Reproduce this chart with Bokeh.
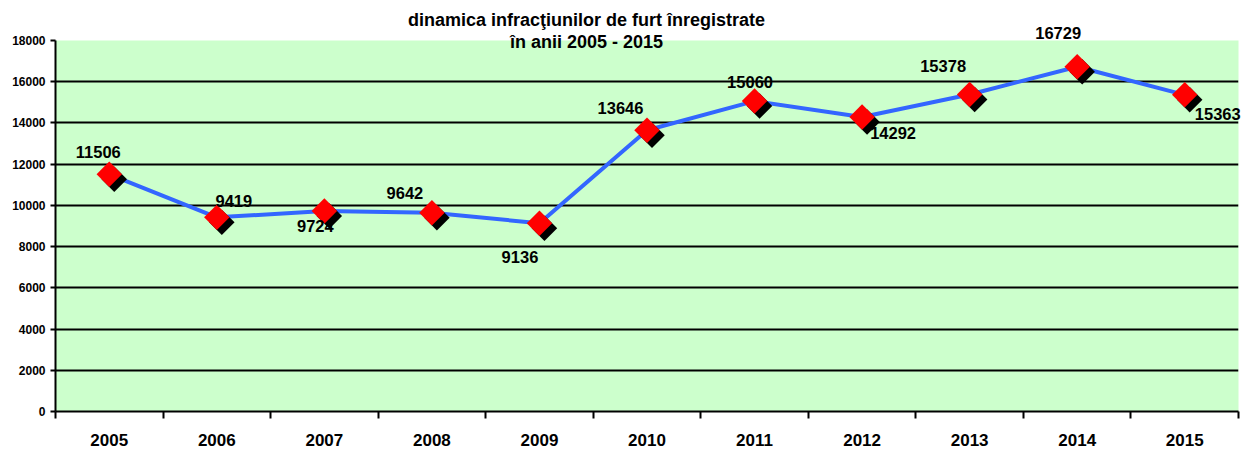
import math
from bokeh.plotting import figure
from bokeh.models import (Range1d, FixedTicker, LinearAxis, Grid, ColumnDataSource)
from bokeh.embed import file_html
from bokeh.resources import INLINE
from bokeh.core.properties import value

# ---- data ----
years = ["2005", "2006", "2007", "2008", "2009", "2010",
         "2011", "2012", "2013", "2014", "2015"]
thefts = [11506, 9419, 9724, 9642, 9136, 13646, 15060, 14292, 15378, 16729, 15363]
y_ticks = [0, 2000, 4000, 6000, 8000, 10000, 12000, 14000, 16000, 18000]
title_lines = ["dinamica infracţiunilor de furt înregistrate", "în anii 2005 - 2015"]

# ---- label placement (screen px, relative to marker; down positive) ----
label_dx = [-11, 17, -9, -27, -19.5, -26.5, -4.5, 31, -26.5, -19, 33]
label_dy = [-21, -15, 16, -19, 35, -21, -18, 17, -28, -33, 20]

FONT = "Liberation Sans"
W, H = 1247, 452
BL, BR, BT, BB = 55, 9, 40, 41
FW, FH = W - BL - BR, H - BT - BB
n = len(years)
YMAX = y_ticks[-1]

p = figure(width=W, height=H, x_range=Range1d(0, n), y_range=Range1d(0, YMAX),
           output_backend="svg", toolbar_location=None,
           x_axis_type=None, y_axis_type=None,
           min_border_left=BL, min_border_right=BR,
           min_border_top=BT, min_border_bottom=BB)
p.background_fill_color = "#CCFFCC"
p.border_fill_color = "white"
p.outline_line_color = None

# grid
p.add_layout(Grid(dimension=1, ticker=FixedTicker(ticks=y_ticks),
                  grid_line_color="black", grid_line_width=2))

# y axis
yaxis = LinearAxis(ticker=FixedTicker(ticks=y_ticks),
                   axis_line_color="black", axis_line_width=2,
                   major_tick_line_color="black", major_tick_line_width=2,
                   major_tick_out=5, major_tick_in=0,
                   minor_tick_line_color=None,
                   major_label_standoff=5,
                   major_label_text_font=FONT,
                   major_label_text_font_size="12px",
                   major_label_text_font_style="bold",
                   major_label_text_color="black")
p.add_layout(yaxis, "left")

xs = [i + 0.5 for i in range(n)]

# x axis: labels at band centres, tick marks at band boundaries
xaxis = LinearAxis(ticker=FixedTicker(ticks=xs, minor_ticks=list(range(n + 1))),
                   major_label_overrides={x: y for x, y in zip(xs, years)},
                   axis_line_color="black", axis_line_width=2,
                   major_tick_line_color=None, major_tick_out=0, major_tick_in=0,
                   minor_tick_line_color="black", minor_tick_line_width=2,
                   minor_tick_out=7, minor_tick_in=0,
                   major_label_standoff=15,
                   major_label_text_font=FONT,
                   major_label_text_font_size="17px",
                   major_label_text_font_style="bold",
                   major_label_text_color="black")
p.add_layout(xaxis, "below")

BASE = -1  # text-centre -> baseline correction (px)
src = ColumnDataSource(dict(
    x=xs, y=thefts, label=[str(v) for v in thefts],
    dx=label_dx, dy=[d + BASE for d in label_dy],
))

# line
p.line("x", "y", source=src, line_color="#3366FF", line_width=4)

# shadow via pixel-shifted ranges
SH = 5
shx = SH * n / FW
shy = SH * YMAX / FH
p.extra_x_ranges = {"sh": Range1d(-shx, n - shx)}
p.extra_y_ranges = {"sh": Range1d(shy, YMAX + shy)}
p.scatter("x", "y", source=src, marker="square", size=18, angle=math.pi / 4,
          fill_color="black", line_color=None, x_range_name="sh", y_range_name="sh")
p.scatter("x", "y", source=src, marker="square", size=18, angle=math.pi / 4,
          fill_color="#FF0000", line_color=None)

# data labels (overlay level so they may spill over the frame edge)
p.text("x", "y", text="label", x_offset="dx", y_offset="dy", source=src,
       text_align="center", text_baseline="alphabetic",
       text_font=value(FONT), text_font_size="16.5px",
       text_font_style="bold", text_color="black", level="overlay")

# title
title_src = ColumnDataSource(dict(x=[0, 0], y=[YMAX, YMAX], t=title_lines,
                                  dx=[531, 531], dy=[-21, 1]))
p.text("x", "y", text="t", x_offset="dx", y_offset="dy", source=title_src,
       text_align="center", text_baseline="alphabetic",
       text_font=value(FONT), text_font_size="18px",
       text_font_style="bold", text_color="black", level="overlay")

open("out.html", "w").write(file_html(p, INLINE))
